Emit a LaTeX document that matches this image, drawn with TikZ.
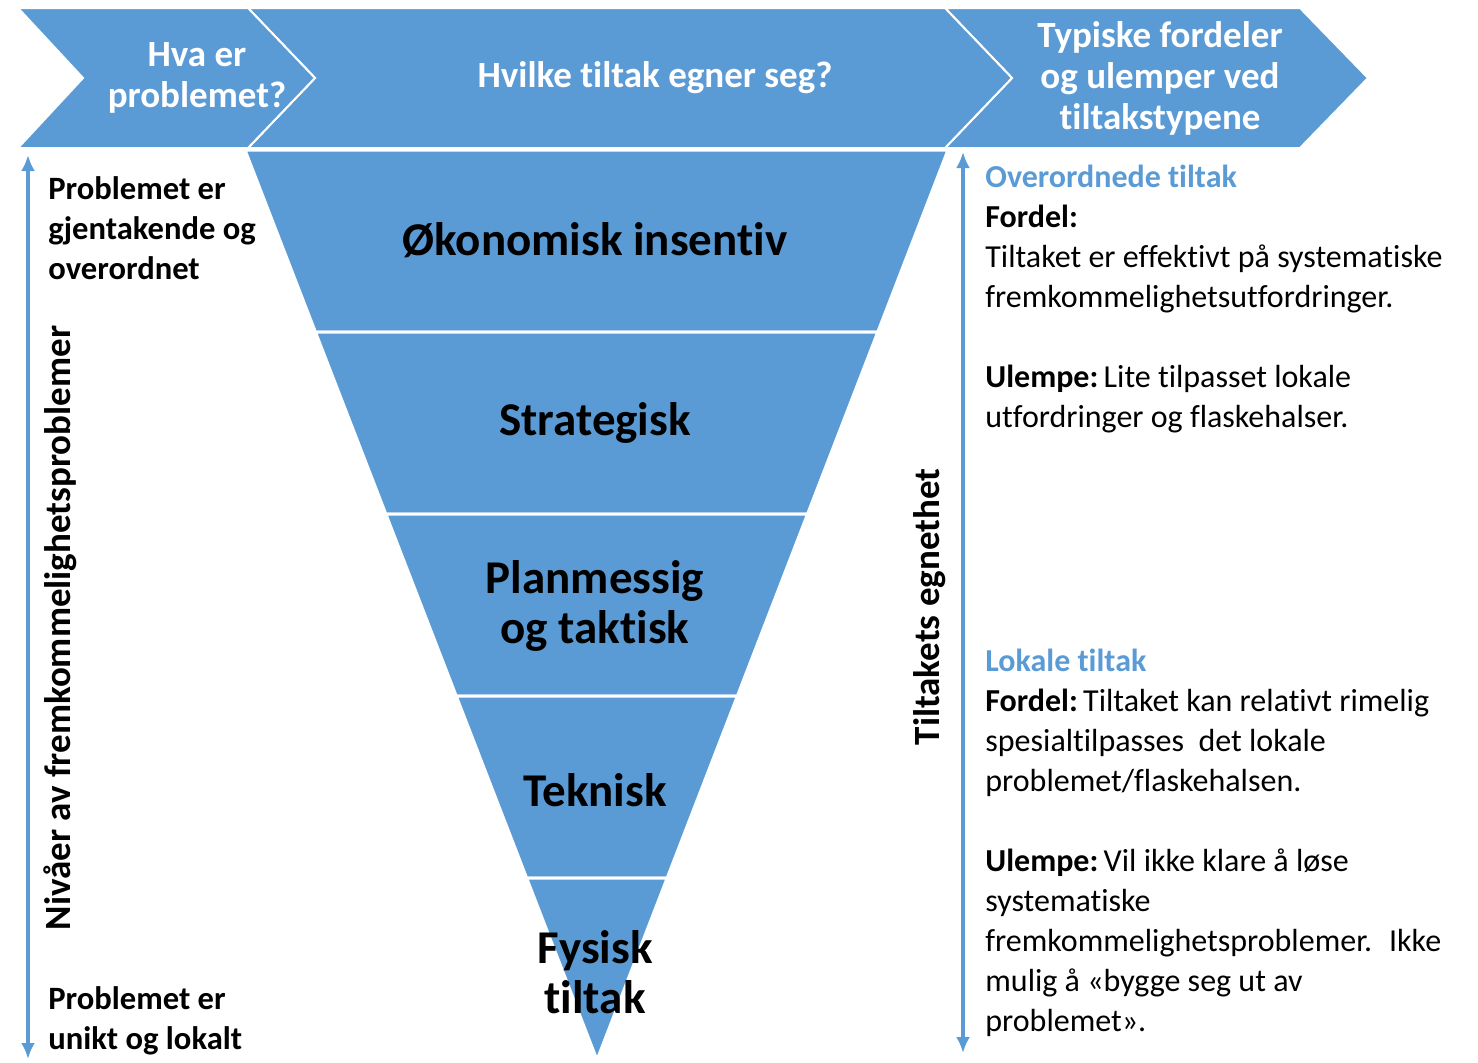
\documentclass[tikz,border=0pt]{standalone}
\usepackage{fontspec}
\setmainfont{Carlito}[Ligatures=NoCommon]
\usetikzlibrary{calc,arrows.meta}
\definecolor{tiltakblue}{HTML}{5B9BD5}
\tikzset{chev/.style = {fill = tiltakblue, draw = white, line width = 1pt}}
\tikzset{band/.style = {fill = tiltakblue, draw = white, line width = 1.5pt}}
\tikzset{bandtxt/.style = {font = \fontsize{23.5}{25}\selectfont\bfseries, align = center}}
\tikzset{headtxt/.style = {text = white, font = \fontsize{18.5}{20.5}\selectfont\bfseries, align = center}}
\tikzset{sidetxt/.style = {font = \fontsize{16.3}{20}\selectfont\bfseries, align = left, anchor = base west, inner sep = 0}}
\tikzset{axistxt/.style = {font = \fontsize{18.5}{20}\selectfont\bfseries, rotate = 90, inner sep = 0}}
\tikzset{note/.style = {font = \fontsize{16}{20}\selectfont, align = left, anchor = base west, inner sep = 0}}
\tikzset{axis/.style = {tiltakblue, line width = 1.8pt, {Latex[length=8pt,width=7pt]}-{Latex[length=8pt,width=7pt]}}}

\begin{document}
\begin{tikzpicture}[x = 0.5pt, y = -0.5pt]
    \useasboundingbox (0,0) rectangle (1478,1062);
    % banner
    \fill[chev] (945,8) -- (1300,8) -- (1368,78) -- (1300,148) -- (945,148) -- (1012,78) -- cycle;
    \fill[chev] (248,8) -- (945,8) -- (1012,78) -- (945,148) -- (248,148) -- (315,78) -- cycle;
    \fill[chev] (18,8) -- (248,8) -- (315,78) -- (248,148) -- (18,148) -- (83,78) -- cycle;
    \node[headtxt] (hva) at (197,78) {Hva er\\problemet?};
    \node[headtxt] (hvilke) at (655,78) {Hvilke tiltak egner seg?};
    \node[headtxt] (typiske) at (1160,78) {Typiske fordeler\\og ulemper ved\\tiltakstypene};
    % funnel
    \coordinate (tl) at (245,150);
    \coordinate (tr) at (948,150);
    \coordinate (apex) at (597,1060);
    \foreach \i in {0,...,4} {
        \pgfmathsetmacro\ta{\i/5}
        \pgfmathsetmacro\tb{(\i+1)/5}
        \filldraw[band] ($(tl)!\ta!(apex)$) -- ($(tr)!\ta!(apex)$) -- ($(tr)!\tb!(apex)$) -- ($(tl)!\tb!(apex)$) -- cycle;
    }
    \node[bandtxt] (okonomisk) at (595,240) {Økonomisk insentiv};
    \node[bandtxt] (strategisk) at (595,423) {Strategisk};
    \node[bandtxt] (planmessig) at (595,606) {Planmessig\\og taktisk};
    \node[bandtxt] (teknisk) at (595,790) {Teknisk};
    \node[bandtxt] (fysisk) at (595,972) {Fysisk\\tiltak};
    % left axis
    \coordinate (ltop) at (28,155);
    \coordinate (lbot) at (28,1059);
    \draw[axis] (lbot) -- (ltop);
    \node[axistxt] (nivaer) at (60,628) {Nivåer av fremkommelighetsproblemer};
    \node[sidetxt] (overordnet) at (48,279) {Problemet er\\gjentakende og\\overordnet};
    \node[sidetxt] (lokalt) at (48,1049) {Problemet er\\unikt og lokalt};
    % right axis
    \coordinate (rtop) at (963,152);
    \coordinate (rbot) at (963,1053);
    \draw[axis] (rbot) -- (rtop);
    \node[axistxt] (egnethet) at (930,607) {Tiltakets egnethet};
    \node[note] (overordnede) at (985,427) {{\color{tiltakblue}\bfseries Overordnede tiltak}\\
        \textbf{Fordel:}\\
        Tiltaket er effektivt på systematiske\\
        fremkommelighetsutfordringer.\\[20pt]
        \textbf{Ulempe:}\,Lite tilpasset lokale\\
        utfordringer og flaskehalser.};
    \node[note] (lokale) at (985,1031) {{\color{tiltakblue}\bfseries Lokale tiltak}\\
        \textbf{Fordel:}\,Tiltaket kan relativt rimelig\\
        spesialtilpasses~ det lokale\\
        problemet/flaskehalsen.\\[20pt]
        \textbf{Ulempe:}\,Vil ikke klare å løse\\
        systematiske\\
        fremkommelighetsproblemer.~ Ikke\\
        mulig å «bygge seg ut av\\
        problemet».};
\end{tikzpicture}
\end{document}
